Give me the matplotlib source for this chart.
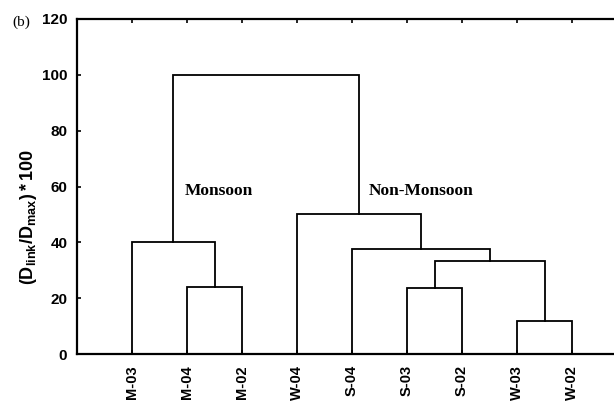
import matplotlib.pyplot as plt

plt.rcParams['mathtext.fontset'] = 'custom'
plt.rcParams['mathtext.bf'] = 'Liberation Sans:bold'
plt.rcParams['mathtext.rm'] = 'Liberation Sans:bold'
plt.rcParams['mathtext.it'] = 'Liberation Sans:bold'

# leaf order along the x axis
leaves = ['M-03', 'M-04', 'M-02', 'W-04', 'S-04', 'S-03', 'S-02', 'W-03', 'W-02']

# merges: C0, C1, ... are the clusters made by earlier rows
left_node = ['W-03', 'S-03', 'M-04', 'C1', 'S-04', 'M-03', 'W-04', 'C5']
right_node = ['W-02', 'S-02', 'M-02', 'C0', 'C3', 'C2', 'C4', 'C6']
link_height = [12, 23.5, 24, 33.3, 37.5, 40, 50, 100]

yticks = [0, 20, 40, 60, 80, 100, 120]

fig = plt.figure(figsize=(6.14, 4.03), dpi=100)
ax = fig.add_axes([77/614, 49/403, 537/614, 335/403])

pos = {name: i + 1 for i, name in enumerate(leaves)}
hgt = {name: 0 for name in leaves}
for i in range(len(link_height)):
    a, b, h = left_node[i], right_node[i], link_height[i]
    ax.plot([pos[a], pos[a], pos[b], pos[b]], [hgt[a], h, h, hgt[b]],
            color='black', lw=1.3, solid_joinstyle='miter')
    pos['C%d' % i] = (pos[a] + pos[b]) / 2
    hgt['C%d' % i] = h

ax.set_xlim(0, 537/55)
ax.set_ylim(0, 120)
ax.set_yticks(yticks)
ax.set_xticks(range(1, len(leaves) + 1))
ax.set_xticklabels(leaves, rotation=90, fontsize=10.5, fontweight='bold',
                   family='Liberation Sans')
ax.set_yticklabels([str(v) for v in yticks], fontsize=11, fontweight='bold',
                   family='Liberation Sans')
ax.tick_params(axis='x', direction='in', top=True, length=3, width=1.2, pad=8)
ax.tick_params(axis='y', direction='in', length=3, width=1.2, pad=7)
ax.spines['right'].set_visible(False)
for s in ['left', 'bottom', 'top']:
    ax.spines[s].set_linewidth(1.6)

ax.set_ylabel(r'$\mathbf{(D_{link}/D_{max})*100}$', fontsize=13)
ax.yaxis.set_label_coords(-(77 - 39) / 537, 0.41)

ax.text(1.95, 57, 'Monsoon', family='Liberation Serif', fontweight='bold', fontsize=12.5)
ax.text(5.3, 57, 'Non-Monsoon', family='Liberation Serif', fontweight='bold', fontsize=12.5)
fig.text(12/614, 1 - 22/403, '(b)', family='Liberation Serif', fontsize=11, va='center')

fig.savefig('out.png', dpi=100)
